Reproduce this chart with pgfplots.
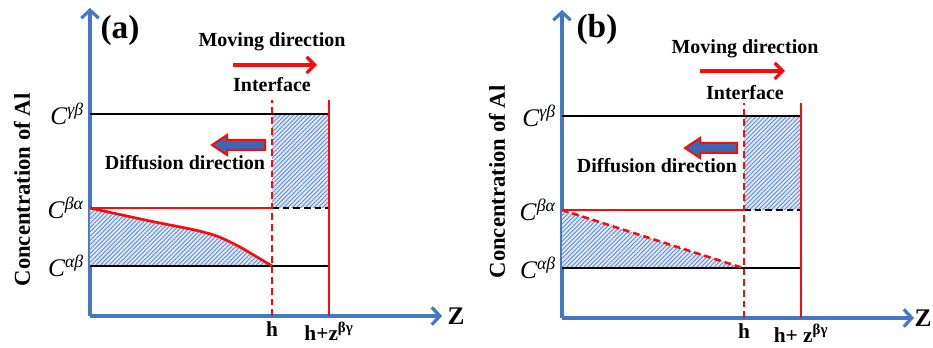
\documentclass[border=0pt]{standalone}
\usepackage{fontspec}
\setmainfont{Liberation Serif}
\usepackage{pgfplots}
\pgfplotsset{compat=1.18}
\usetikzlibrary{patterns,patterns.meta,arrows.meta}
\definecolor{axisblue}{RGB}{66,120,196}
\definecolor{arrowblue}{RGB}{58,104,178}
\definecolor{hatchblue}{RGB}{110,150,215}
\definecolor{hatchbg}{RGB}{225,234,248}
\definecolor{lred}{RGB}{250,10,10}
\newcommand\fs[1]{\fontsize{#1}{#1}\selectfont}
\pgfplotsset{
  panel/.style={
    x=0.75pt, y=0.75pt, xmin=0, xmax=352, ymin=0, ymax=308,
    anchor=south west, clip=false,
    axis lines=left,
    axis line style={draw=axisblue, line width=2.4pt},
    x axis line style={-{Straight Barb[length=6pt,width=13pt,line width=2.4pt]}},
    y axis line style={-{Straight Barb[length=6pt,width=13pt,line width=2.4pt]}},
    xtick={182,239}, ytick={50,108,202}, major tick length=0pt,
    yticklabels={\textit{C}\textsuperscript{\textit{αβ}},\textit{C}\textsuperscript{\textit{βα}},\textit{C}\textsuperscript{\textit{γβ}}},
    yticklabel style={font=\fs{19}, xshift=-1pt},
    xticklabel style={font=\bfseries\fs{16}, yshift=-1pt},
  },
  hatch/.style={draw=none, fill=hatchbg, postaction={pattern={Lines[angle=45,distance=2.3pt,line width=0.8pt]}, pattern color=hatchblue}},
}
\begin{document}
\begin{tikzpicture}
\useasboundingbox (0,0) rectangle (699.75pt,261pt);
% ---------------- panel (a)
\begin{axis}[panel, at={(67.5pt,24pt)},
  xticklabels={h, h+z\textsuperscript{βγ}}]
\addplot[hatch] coordinates {(0,50)(0,108)(60,95)(105,86)(128,79.5)(150,69)(182,50)} -- cycle;
\addplot[hatch] coordinates {(182,108)(182,202)(239,202)(239,108)} -- cycle;
\addplot[black, line width=1.9pt] coordinates {(0,202)(240,202)};
\addplot[black, line width=1.9pt] coordinates {(0,50)(240,50)};
\addplot[black, line width=1.9pt, dash pattern=on 5pt off 3pt] coordinates {(182,108)(239,108)};
\addplot[lred, line width=1.9pt] coordinates {(0,108)(182,108)};
\addplot[lred, line width=2pt, smooth, tension=0.4] coordinates {(0,108)(60,95)(105,86)(128,79.5)(150,69)(182,50)};
\addplot[lred, line width=1.9pt, dash pattern=on 5pt off 3pt] coordinates {(182,0)(182,216)};
\addplot[lred, line width=1.9pt] coordinates {(239,0)(239,216)};
\addplot[lred, line width=2.4pt, -{Straight Barb[length=6pt,width=12pt,line width=2.4pt]}] coordinates {(143,251)(227,251)};
\addplot[fill=arrowblue, draw=lred, line width=1.5pt] coordinates {(175,176)(137,176)(137,181)(122,171)(137,161)(137,166)(175,166)} -- cycle;
\node[font=\bfseries\fs{25}] at (axis cs:30,286) {(a)};
\node[font=\bfseries\fs{15}] at (axis cs:182,274) {Moving direction};
\node[font=\bfseries\fs{15}] at (axis cs:182,231) {Interface};
\node[font=\bfseries\fs{15}] at (axis cs:95,153) {Diffusion direction};
\node[font=\bfseries\fs{19}] at (axis cs:366,0) {Z};
\node[font=\bfseries\fs{17}, rotate=90] at (axis cs:-68,126) {Concentration of Al};
\end{axis}
% ---------------- panel (b)
\begin{axis}[panel, at={(421.5pt,22.5pt)},
  xticklabels={h, h+ z\textsuperscript{βγ}}]
\addplot[hatch] coordinates {(0,50)(0,108)(181,50)} -- cycle;
\addplot[hatch] coordinates {(182,108)(182,202)(239,202)(239,108)} -- cycle;
\addplot[black, line width=1.9pt] coordinates {(0,202)(240,202)};
\addplot[black, line width=1.9pt] coordinates {(0,50)(240,50)};
\addplot[black, line width=1.9pt, dash pattern=on 5pt off 3pt] coordinates {(182,108)(239,108)};
\addplot[lred, line width=1.9pt] coordinates {(0,108)(182,108)};
\addplot[lred, line width=1.9pt, dash pattern=on 5pt off 3pt] coordinates {(0,108)(181,50)};
\addplot[lred, line width=1.9pt, dash pattern=on 5pt off 3pt] coordinates {(182,0)(182,215)};
\addplot[lred, line width=1.9pt] coordinates {(239,0)(239,215)};
\addplot[lred, line width=2.4pt, -{Straight Barb[length=6pt,width=12pt,line width=2.4pt]}] coordinates {(138,247)(223,247)};
\addplot[fill=arrowblue, draw=lred, line width=1.5pt] coordinates {(175,175)(138,175)(138,180)(123,170)(138,160)(138,165)(175,165)} -- cycle;
\node[font=\bfseries\fs{25}] at (axis cs:35,289) {(b)};
\node[font=\bfseries\fs{15}] at (axis cs:183,269) {Moving direction};
\node[font=\bfseries\fs{15}] at (axis cs:183,225) {Interface};
\node[font=\bfseries\fs{15}] at (axis cs:95,152) {Diffusion direction};
\node[font=\bfseries\fs{19}] at (axis cs:361,0) {Z};
\node[font=\bfseries\fs{17}, rotate=90] at (axis cs:-65,136) {Concentration of Al};
\end{axis}
\end{tikzpicture}
\end{document}
